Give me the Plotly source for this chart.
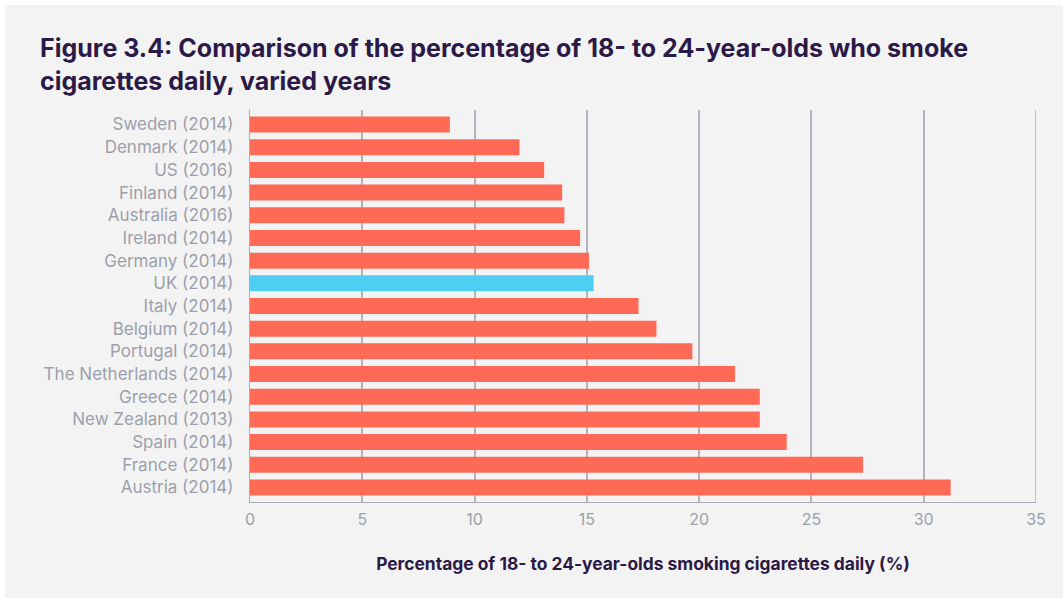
import plotly.graph_objects as go

# Daily smoking prevalence among 18- to 24-year-olds, by country (survey year)
countries = [
    "Sweden (2014)", "Denmark (2014)", "US (2016)", "Finland (2014)",
    "Australia (2016)", "Ireland (2014)", "Germany (2014)", "UK (2014)",
    "Italy (2014)", "Belgium (2014)", "Portugal (2014)",
    "The Netherlands (2014)", "Greece (2014)", "New Zealand (2013)",
    "Spain (2014)", "France (2014)", "Austria (2014)",
]
percent_daily = [8.9, 12.0, 13.1, 13.9, 14.0, 14.7, 15.1, 15.3,
                 17.3, 18.1, 19.7, 21.6, 22.7, 22.7, 23.9, 27.3, 31.2]
x_ticks = [0, 5, 10, 15, 20, 25, 30, 35]

highlight = "UK (2014)"
bar_colors = ["#4ecef3" if c == highlight else "#ff6a56" for c in countries]

W, H = 1063, 598
M_L, M_R, M_T, M_B = 250, 27, 110, 96
GRID = "#b0b3bd"

fig = go.Figure(
    go.Bar(
        x=percent_daily,
        y=countries,
        orientation="h",
        marker=dict(color=bar_colors, line=dict(width=0)),
        width=0.705,
        hoverinfo="x+y",
    )
)

pw, ph = W - M_L - M_R, H - M_T - M_B
# grey panel leaving a thin white strip along the top and left edges
fig.add_shape(
    type="rect", xref="paper", yref="paper", layer="below",
    x0=(5 - M_L) / pw, x1=(W + 5 - M_L) / pw,
    y0=-(M_B + 5) / ph, y1=1 + (M_T - 5) / ph,
    fillcolor="#f3f3f3", line=dict(width=0),
)
# closing gridline at the right end of the value axis
fig.add_shape(
    type="line", xref="x", yref="paper", layer="below",
    x0=x_ticks[-1], x1=x_ticks[-1], y0=0, y1=1,
    line=dict(color=GRID, width=1.6),
)

FONT = "Inter, sans-serif"
label_font = dict(family=FONT, size=17, color="#9c9fab")

fig.update_layout(
    width=W, height=H,
    margin=dict(l=M_L, r=M_R, t=M_T, b=M_B, pad=0),
    paper_bgcolor="#ffffff",
    plot_bgcolor="rgba(0,0,0,0)",
    showlegend=False,
    title=dict(
        text="Figure 3.4: Comparison of the percentage of 18- to 24-year-olds who smoke<br>cigarettes daily, varied years",
        font=dict(family=FONT, size=25, color="#2b1a47", weight="bold",
                  lineposition="none"),
        x=40 / W, xanchor="left", xref="container",
        y=1 - 57 / H, yanchor="top", yref="container",
    ),
    xaxis=dict(
        range=[0, 35], tickvals=x_ticks, ticktext=[str(t) for t in x_ticks],
        showgrid=True, gridcolor=GRID, gridwidth=1.6,
        zeroline=False, showline=True, linecolor="#a9acb7", linewidth=1.2,
        ticks="", tickfont=dict(family=FONT, size=16, color="#9c9fab"),
        ticklabelstandoff=3,
        title=dict(
            text="Percentage of 18- to 24-year-olds smoking cigarettes daily (%)",
            font=dict(family=FONT, size=17.4, color="#2b1a47", weight="bold"),
            standoff=29,
        ),
        fixedrange=True,
    ),
    yaxis=dict(
        autorange=False, range=[16.64, -0.64],
        categoryorder="array", categoryarray=countries,
        showgrid=False, zeroline=False,
        showline=True, linecolor="#a9acb7", linewidth=1.2,
        ticks="", tickfont=label_font, ticklabelstandoff=12,
        fixedrange=True,
    ),
)

fig.write_html("out.html")
